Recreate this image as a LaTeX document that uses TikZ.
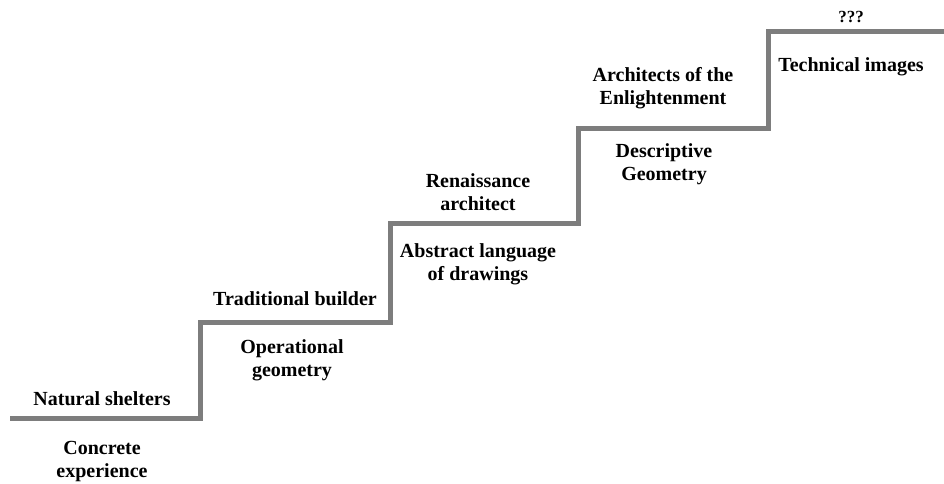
\documentclass[tikz,border=0pt]{standalone}
\usepackage{fontspec}
\setmainfont{Liberation Serif}
\definecolor{stairgray}{RGB}{125,125,125}
\begin{document}
\begin{tikzpicture}[x=1pt,y=-1pt,
  stair/.style={draw=stairgray,line width=5pt,line join=miter,line cap=butt},
  lbl/.style={font=\fontsize{20}{23}\selectfont\bfseries,align=center,inner sep=0pt,anchor=base}]
\useasboundingbox (0,0) rectangle (944,484);
% corners of the staircase
\coordinate (s0) at (10,418);
\coordinate (s1) at (200,418);
\coordinate (s2) at (200,322);
\coordinate (s3) at (390,322);
\coordinate (s4) at (390,223);
\coordinate (s5) at (578,223);
\coordinate (s6) at (578,128);
\coordinate (s7) at (768,128);
\coordinate (s8) at (768,32);
\coordinate (s9) at (944,32);
\draw[stair] (s0) -- (s1) -- (s2) -- (s3) -- (s4) -- (s5) -- (s6) -- (s7) -- (s8) -- (s9);
% labels above and below each step (base = last line's baseline)
\node[lbl] (n1) at (102,405) {Natural shelters};
\node[lbl] (b1) at (102,477) {Concrete\\experience};
\node[lbl] (n2) at (295,305) {Traditional builder};
\node[lbl] (b2) at (292,376) {Operational\\geometry};
\node[lbl] (n3) at (478,210) {Renaissance\\architect};
\node[lbl] (b3) at (478,280) {Abstract language\\of drawings};
\node[lbl] (n4) at (663,105) {Architects of the\\Enlightenment};
\node[lbl] (b4) at (664,180) {Descriptive\\Geometry};
\node[lbl,font=\fontsize{17}{20}\selectfont\bfseries] (n5) at (851,23) {???};
\node[lbl] (b5) at (851,72) {Technical images};
\end{tikzpicture}
\end{document}
